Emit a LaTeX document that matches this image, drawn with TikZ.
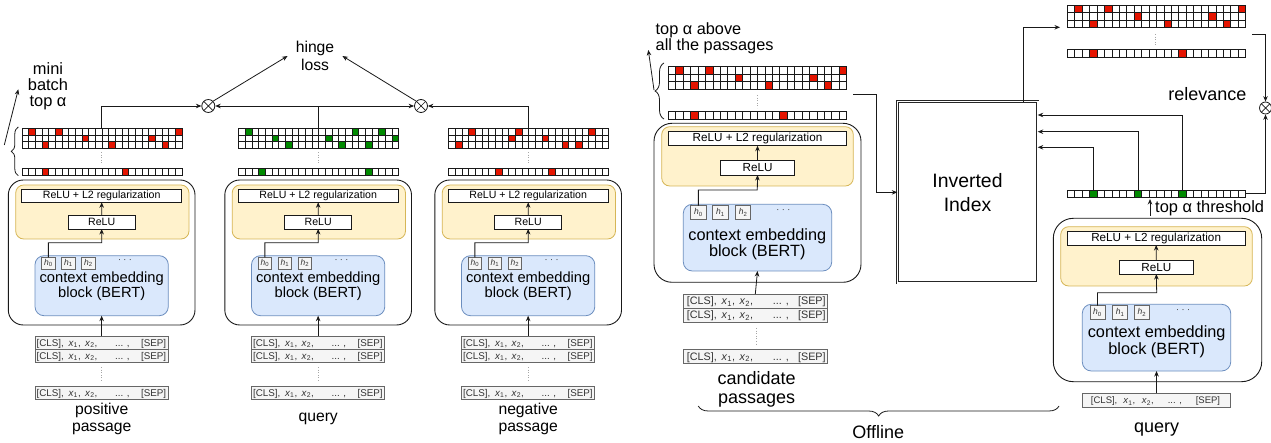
\documentclass[tikz,border=0pt]{standalone}
\usepackage{fontspec}
\setmainfont{Liberation Sans}
\usetikzlibrary{arrows.meta,decorations.pathreplacing,calc}
\definecolor{cred}{HTML}{E51400}
\definecolor{cgreen}{HTML}{008A00}
\definecolor{yfill}{HTML}{FFF2CC}
\definecolor{ydraw}{HTML}{D6B656}
\definecolor{bfill}{HTML}{DAE8FC}
\definecolor{bdraw}{HTML}{6C8EBF}
\definecolor{gfill}{HTML}{F5F5F5}
\definecolor{gdraw}{HTML}{666666}
\definecolor{gtext}{HTML}{333333}
\newcommand{\fsz}[2]{\fontsize{#1}{#2}\selectfont}
\tikzset{
 ln/.style={line width=0.8pt, draw=black!90},
 arr/.style={ln, -{Stealth[length=5.5pt,width=4.5pt]}},
 outerbox/.style={draw=black!90, line width=0.9pt, rounded corners=15pt, fill=white},
 yel/.style={draw=ydraw, fill=yfill, line width=0.8pt, rounded corners=8pt},
 blu/.style={draw=bdraw, fill=bfill, line width=0.8pt, rounded corners=9pt},
 wbox/.style={draw=black!90, fill=white, line width=0.8pt},
 hcell/.style={draw=gdraw, fill=gfill, line width=0.7pt, text=gtext, font=\fsz{8.5}{9}},
 tok/.style={draw=gdraw, fill=gfill, line width=0.7pt},
 sepdots/.style={draw=black!35, dotted, line width=0.6pt},
 gridln/.style={draw=black!90, line width=0.6pt},
 hdots/.style={inner sep=0pt, text=gtext, font=\fsz{9}{10}},
 lbl/.style={align=center, inner sep=0pt},
 brc/.style={decorate, decoration={brace, amplitude=#1}, line width=0.8pt, draw=black!90},
 idx/.style={draw=black!85, line width=0.7pt, double=white, double distance=1.6pt, fill=white},
 otimes/.style={circle, draw=black!90, fill=white, line width=0.8pt, minimum size=13pt, inner sep=0pt,
   path picture={\draw[line width=0.7pt] (path picture bounding box.north west) -- (path picture bounding box.south east)
     (path picture bounding box.north east) -- (path picture bounding box.south west);}},
}
\newcommand{\rbox}[7]{\node[align=center, #2, inner sep=0pt, outer sep=0pt, minimum width={(#5)-(#3)}, minimum height={(#6)-(#4)}] (#1) at ({((#3)+(#5))/2},{((#4)+(#6))/2}) {#7};}
\newcommand{\cellstrip}[6]{%
  \foreach \ci in {#6}{\fill[#5] ({#1+\ci*#3},#2) rectangle ++(#3,#4);}%
  \foreach \ii in {0,...,23}{\draw[gridln] ({#1+\ii*#3},#2) rectangle ++(#3,#4);}%
}
\newcommand{\tokpos}[5]{\def\tkA{#1}\def\tkB{#2}\def\tkC{#3}\def\tkD{#4}\def\tkE{#5}}
\newcommand{\tokrow}[6]{%
  \rbox{#1}{tok}{#2}{#3}{#4}{#5}{}%
  \begin{scope}[every node/.style={inner sep=0pt, text=gtext, font=\fsz{#6}{#6}, yshift={-0.36*#6}}]
  \node[anchor=base west] at ($(#1.west)!\tkA!(#1.east)$) {[CLS],};
  \node[anchor=base west] at ($(#1.west)!\tkB!(#1.east)$) {\textit{x}\textsubscript{1},};
  \node[anchor=base west] at ($(#1.west)!\tkC!(#1.east)$) {\textit{x}\textsubscript{2},};
  \node[anchor=base west] at ($(#1.west)!\tkD!(#1.east)$) {... ,};
  \node[anchor=base east] at ($(#1.west)!\tkE!(#1.east)$) {[SEP]};
  \end{scope}}
\newcommand{\leftcol}[8]{%
\begin{scope}[xshift=#2]
\cellstrip{22}{128.3}{6.667}{6.667}{#3}{#4}
\cellstrip{22}{135}{6.667}{6.667}{#3}{#5}
\cellstrip{22}{141.7}{6.667}{6.667}{#3}{#6}
\cellstrip{22}{168.3}{6.667}{7}{#3}{#7}
\draw[sepdots] (101.7,152) -- (101.7,164);
\coordinate (#1top) at (101.7,128.3);
\rbox{#1out}{outerbox}{8.3}{180}{195}{325}{}
\rbox{#1yel}{yel}{15.7}{185}{189}{239}{}
\rbox{#1rl2}{wbox,font=\fsz{10.6}{12}}{21.7}{189}{181.7}{202.3}{ReLU + L2 regularization}
\rbox{#1relu}{wbox,font=\fsz{10.6}{12}}{68.3}{215.7}{135}{229}{ReLU}
\rbox{#1bert}{blu}{35}{255.7}{168.3}{315.7}{}
\rbox{#1h0}{hcell}{41.7}{257.3}{55}{269}{\textit{h}\textsubscript{0}}
\rbox{#1h1}{hcell}{61.7}{257.3}{75}{269}{\textit{h}\textsubscript{1}}
\rbox{#1h2}{hcell}{81.7}{257.3}{95}{269}{\textit{h}\textsubscript{2}}
\node[hdots] (#1hd) at (125,261) {· · ·};
\node[lbl,font=\fsz{14.7}{14.5}] (#1ctx) at (101.7,286) {context embedding\\block (BERT)};
\coordinate (#1bend) at (101.7,242.7);
\tokpos{0.01}{0.25}{0.375}{0.6}{0.985}
\tokrow{#1t1}{35}{336}{168.3}{349.3}{9.8}
\tokrow{#1t2}{35}{349.3}{168.3}{362.3}{9.8}
\tokrow{#1t3}{35}{386}{168.3}{399}{9.8}
\draw[sepdots] (101.7,367) -- (101.7,381);
\node[lbl,font=\fsz{15.7}{17.5}] (#1lbl) at (101.7,418.7) {#8};
\draw[arr] (#1relu.north) -- (#1rl2.south);
\draw[arr] (#1h0.north) |- (#1bend) -- (#1relu.south);
\draw[arr] (#1t1.north) -- (#1bert.south);
\end{scope}}
\begin{document}
\begin{tikzpicture}[x=1pt,y=-1pt]
\useasboundingbox (0,0) rectangle (1271,443);
% ---------- left: training ----------
\leftcol{p}{0}{cred}{1,5,23}{9,19}{3,13,21}{3,15}{positive\\passage}
\leftcol{q}{216.5}{cgreen}{1,17,21}{5,13,23}{7,15,19}{3,19}{query}
\leftcol{n}{426.5}{cred}{3,10,21}{9,14}{1,17,19}{7,15}{negative\\passage}
\node[otimes] (ox1) at (208.3,106) {};
\node[otimes] (ox2) at (421,106) {};
\draw[arr] (ptop) |- (ox1.west);
\draw[arr] (qtop) |- (ox1.east);
\draw[arr] (qtop) |- (ox2.west);
\draw[arr] (ntop) |- (ox2.east);
\node[lbl,font=\fsz{15.7}{18},inner xsep=8pt] (hinge) at (315,56) {hinge\\loss};
\draw[arr] (ox1.north east) -- (hinge.west);
\draw[arr] (ox2.north west) -- (hinge.east);
\draw[brc=7] (18.3,175.7) -- (18.3,127);
\coordinate (lb1) at (4.3,145);
\coordinate (lb2) at (18.3,89.3);
\draw[arr] (lb1) -- (lb2);
\node[lbl,font=\fsz{16.4}{16}] (mb) at (48,86) {mini\\batch\\top α};
% ---------- right: offline ----------
\cellstrip{668.3}{66.7}{7.43}{7.5}{cred}{1,5,23}
\cellstrip{668.3}{74.2}{7.43}{7.5}{cred}{9,19}
\cellstrip{668.3}{81.7}{7.43}{7.5}{cred}{3,13,21}
\cellstrip{668.3}{111.7}{7.43}{7.4}{cred}{3,15}
\draw[sepdots] (757,95) -- (757,108);
\coordinate (offout) at (853.3,94.3);
\coordinate (ojoint) at (876,94.3);
\draw[brc=9] (664,119) -- (664,63);
\coordinate (ob1) at (654,90);
\coordinate (ob2) at (648.3,50);
\draw[arr] (ob1) -- (ob2);
\node[lbl,align=left,anchor=west,font=\fsz{16.3}{15}] (topabove) at (655.5,38) {top α above\\all the passages};
\rbox{oout}{outerbox,rounded corners=18pt}{654}{123.3}{861}{282.3}{}
\rbox{oyel}{yel}{661.7}{126.7}{853.3}{186}{}
\rbox{orl2}{wbox,font=\fsz{11.7}{13}}{668.3}{131}{846.7}{145.7}{ReLU + L2 regularization}
\rbox{orelu}{wbox,font=\fsz{11.7}{13}}{720.7}{160}{794.3}{175}{ReLU}
\rbox{obert}{blu}{683.3}{204.3}{831.7}{271}{}
\rbox{oh0}{hcell}{690.7}{205.7}{706}{219.3}{\textit{h}\textsubscript{0}}
\rbox{oh1}{hcell}{712.7}{205.7}{728.3}{219.3}{\textit{h}\textsubscript{1}}
\rbox{oh2}{hcell}{735.7}{205.7}{750.7}{219.3}{\textit{h}\textsubscript{2}}
\node[hdots] (ohd) at (783.3,211) {· · ·};
\node[lbl,font=\fsz{16.3}{14.6}] (octx) at (757.3,244) {context embedding\\block (BERT)};
\coordinate (obend) at (757.3,190);
\tokpos{0.023}{0.265}{0.39}{0.62}{0.99}
\tokrow{ot1}{683.3}{294}{827.3}{308}{10.8}
\tokrow{ot2}{683.3}{308}{827.3}{322}{10.8}
\tokrow{ot3}{683.3}{349.3}{827.3}{363.3}{10.8}
\draw[sepdots] (756.7,328) -- (756.7,344);
\node[lbl,font=\fsz{18}{19}] (cand) at (756.7,389) {candidate\\passages};
\draw[brc=10] (1059,406) -- (698.3,406);
\node[lbl,font=\fsz{18}{20}] (offl) at (878.3,432) {Offline};
\draw[arr] (orelu.north) -- (orl2.south);
\draw[arr] (oh0.north) |- (obend) -- (orelu.south);
\draw[arr] (ot1.north) -- (obert.south);
% ---------- inverted index ----------
\rbox{index}{idx,font=\fsz{19.4}{24}}{897.3}{101.7}{1037.7}{283}{Inverted\\Index}
\draw[arr] (offout) -- (ojoint) |- (index.west);
% top-right retrieved grid
\cellstrip{1067.3}{5.3}{7.43}{7.5}{cred}{1,5,23}
\cellstrip{1067.3}{12.8}{7.43}{7.5}{cred}{9,19}
\cellstrip{1067.3}{20.3}{7.43}{7.5}{cred}{3,13,21}
\cellstrip{1067.3}{49.3}{7.43}{8}{cred}{3,15}
\draw[sepdots] (1155.7,34) -- (1155.7,45);
\coordinate (trin) at (1060,27.3);
\coordinate (trout) at (1252.3,34.3);
\draw[arr] ($(index.north west)!0.9!(index.north east)$) |- (trin);
\node[otimes,minimum size=12pt] (ox3) at (1265.5,108) {};
\draw[arr] (trout) -| (ox3.north);
\node[lbl,font=\fsz{18}{20}] (relv) at (1207.3,94.3) {relevance};
% query sparse vector
\cellstrip{1067.3}{190}{7.43}{7.3}{cgreen}{3,9,15}
\coordinate (g3) at (1093.3,190);
\coordinate (g9) at (1137.9,190);
\coordinate (g15) at (1182.5,190);
\coordinate (ya) at (0,115);
\coordinate (yb) at (0,131.7);
\coordinate (yc) at (0,147.3);
\draw[arr] (g15) |- (index.east |- ya);
\draw[arr] (g9) |- (index.east |- yb);
\draw[arr] (g3) |- (index.east |- yc);
\coordinate (qgout) at (1245.7,193.6);
\draw[arr] (qgout) -| (ox3.south);
\coordinate (thr1) at (1150,216);
\coordinate (thr2) at (1150,199);
\draw[arr] (thr1) -- (thr2);
\node[lbl,anchor=west,font=\fsz{16.4}{18}] (thr) at (1155,208) {top α threshold};
% ---------- right: query encoder ----------
\rbox{rout}{outerbox,rounded corners=20pt}{1053.3}{218.3}{1261.7}{381.7}{}
\rbox{ryel}{yel}{1060.7}{226.7}{1252.3}{286}{}
\rbox{rrl2}{wbox,font=\fsz{11.7}{13}}{1067.3}{231}{1245}{245}{ReLU + L2 regularization}
\rbox{rrelu}{wbox,font=\fsz{11.7}{13}}{1119.3}{260.7}{1193.3}{274}{ReLU}
\rbox{rbert}{blu}{1082.3}{304.3}{1230.7}{371}{}
\rbox{rh0}{hcell}{1090}{305.7}{1105}{319}{\textit{h}\textsubscript{0}}
\rbox{rh1}{hcell}{1112.7}{305.7}{1127.7}{319}{\textit{h}\textsubscript{1}}
\rbox{rh2}{hcell}{1134.3}{305.7}{1149.3}{319}{\textit{h}\textsubscript{2}}
\node[hdots] (rhd) at (1183,311) {· · ·};
\node[lbl,font=\fsz{16.3}{14.6}] (rctx) at (1156.7,341.7) {context embedding\\block (BERT)};
\coordinate (rbend) at (1156.7,292.7);
\tokpos{0.057}{0.275}{0.40}{0.575}{0.93}
\tokrow{rt1}{1082.3}{393.3}{1230.7}{407.7}{9.5}
\node[lbl,font=\fsz{18}{20}] (rq) at (1156.7,429.3) {query};
\draw[arr] (rrelu.north) -- (rrl2.south);
\draw[arr] (rh0.north) |- (rbend) -- (rrelu.south);
\draw[arr] (rt1.north) -- (rbert.south);
\end{tikzpicture}
\end{document}
